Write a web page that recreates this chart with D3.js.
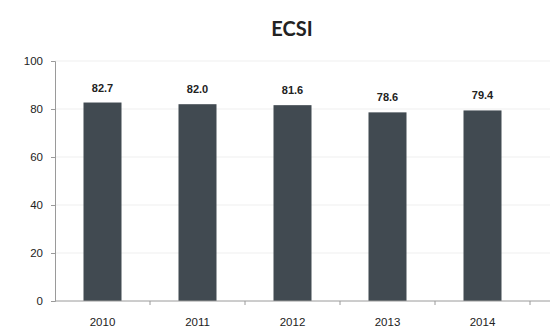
<!DOCTYPE html>
<html><head><meta charset="utf-8">
<script src="https://cdn.jsdelivr.net/npm/d3@7"></script>
<style>body{margin:0;background:#fff;}svg{display:block;}</style>
</head><body>
<svg id="c" width="555" height="331"></svg>
<script>
(function(){
const categories = ["2010","2011","2012","2013","2014"];
const values = [82.7, 82.0, 81.6, 78.6, 79.4];
const valueLabels = ["82.7","82.0","81.6","78.6","79.4"];
const yTicks = [0,20,40,60,80,100];
const title = "ECSI";

const svg = d3.select("#c");
const mLeft = 55, mRight = 530, mTop = 61, mBottom = 301;
const x = d3.scaleBand().domain(categories).range([mLeft, mRight]).paddingInner(0.6).paddingOuter(0.3);
const y = d3.scaleLinear().domain([0,100]).range([mBottom, mTop]);

svg.append("text").attr("x", 292).attr("y", 36).attr("text-anchor","middle")
  .attr("font-family","Lato, 'Open Sans', sans-serif").attr("font-weight","bold")
  .attr("font-size",20).attr("fill","#222").text(title);

svg.append("g").selectAll("line").data(yTicks.filter(d=>d>0)).join("line")
  .attr("x1", mLeft).attr("x2", 550).attr("y1", d=>y(d)).attr("y2", d=>y(d))
  .attr("stroke","#efefef").attr("stroke-width",1);

const yAxis = svg.append("g").attr("transform",`translate(${mLeft},0)`)
  .call(d3.axisLeft(y).tickValues(yTicks).tickSize(4).tickPadding(8));
yAxis.select(".domain").attr("stroke","#9a9a9a");
yAxis.selectAll(".tick line").attr("stroke","#9a9a9a");
yAxis.selectAll("text").attr("font-family","'Liberation Sans', sans-serif").attr("font-size",11.5).attr("fill","#222");

svg.append("g").selectAll("rect").data(values).join("rect")
  .attr("x",(d,i)=>x(categories[i])).attr("width",x.bandwidth())
  .attr("y",d=>y(d)).attr("height",d=>y(0)-y(d)).attr("fill","#414a51");

const band = d3.scaleBand().domain(categories).range([mLeft,mRight]);
const xg = svg.append("g").attr("transform",`translate(0,${mBottom})`);
xg.append("line").attr("x1",mLeft).attr("x2",550).attr("y1",0).attr("y2",0).attr("stroke","#9a9a9a");
xg.selectAll("line.tk").data(categories).join("line").attr("class","tk")
  .attr("x1",d=>band(d)+band.bandwidth()).attr("x2",d=>band(d)+band.bandwidth())
  .attr("y1",0).attr("y2",4).attr("stroke","#9a9a9a");
xg.selectAll("text").data(categories).join("text")
  .attr("x",d=>band(d)+band.bandwidth()/2).attr("y",25).attr("text-anchor","middle")
  .attr("font-family","'Liberation Sans', sans-serif").attr("font-size",11.5).attr("fill","#222").text(d=>d);

svg.append("g").selectAll("text").data(values).join("text")
  .attr("x",(d,i)=>x(categories[i])+x.bandwidth()/2).attr("y",d=>y(d)-11)
  .attr("text-anchor","middle").attr("font-family","'Liberation Sans', sans-serif")
  .attr("font-weight","bold").attr("font-size",11).attr("fill","#222").text((d,i)=>valueLabels[i]);
})();
</script>
</body></html>
